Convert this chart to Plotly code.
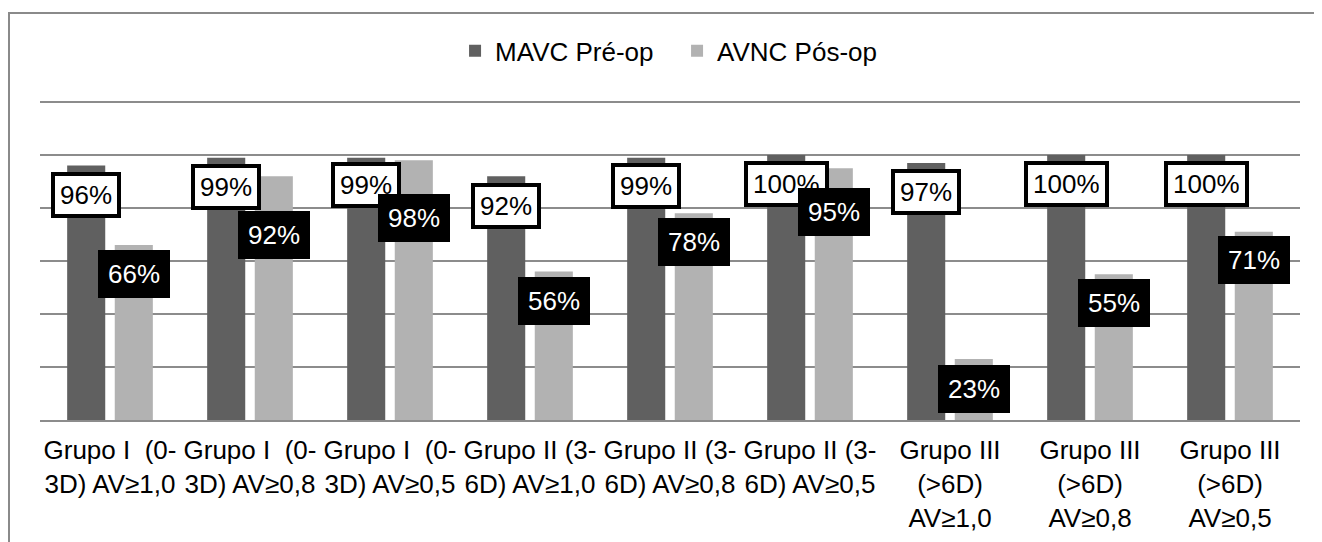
import plotly.graph_objects as go

categories = [
    "Grupo I\u00a0 (0-<br>3D) AV≥1,0",
    "Grupo I\u00a0 (0-<br>3D) AV≥0,8",
    "Grupo I\u00a0 (0-<br>3D) AV≥0,5",
    "Grupo II (3-<br>6D) AV≥1,0",
    "Grupo II (3-<br>6D) AV≥0,8",
    "Grupo II (3-<br>6D) AV≥0,5",
    "Grupo III<br>(>6D)<br>AV≥1,0",
    "Grupo III<br>(>6D)<br>AV≥0,8",
    "Grupo III<br>(>6D)<br>AV≥0,5",
]
mavc_pre = [0.96, 0.99, 0.99, 0.92, 0.99, 1.00, 0.97, 1.00, 1.00]
avnc_pos = [0.66, 0.92, 0.98, 0.56, 0.78, 0.95, 0.23, 0.55, 0.71]

# label vertical placement (pixels below the bar top)
pre_label_drop = [29, 29, 27, 30, 28, 29, 29, 29, 29]
pos_label_drop = [29, 59, 58, 29, 29, 44, 30, 29, 28]

FONT = "Liberation Sans, Arial, sans-serif"
DARK = "#606060"
LIGHT = "#b2b2b2"
BARGAP = 0.32
slot = (1 - BARGAP) / 2
YTOP = 1.2038

fig = go.Figure()
fig.add_trace(go.Bar(name="MAVC Pré-op", x=list(range(len(categories))), y=mavc_pre,
                     marker=dict(color=DARK, line=dict(width=0))))
fig.add_trace(go.Bar(name="AVNC Pós-op", x=list(range(len(categories))), y=avnc_pos,
                     marker=dict(color=LIGHT, line=dict(width=0))))

annotations = []
for i, v in enumerate(mavc_pre):
    annotations.append(dict(
        x=i - slot / 2, y=v, xref="x", yref="y", yshift=-pre_label_drop[i],
        text=f"{round(v*100)}%", showarrow=False, yanchor="middle", xanchor="center",
        font=dict(family=FONT, size=26, color="#000000"),
        bgcolor="#ffffff", bordercolor="#000000", borderwidth=4, borderpad=5, height=28))
for i, v in enumerate(avnc_pos):
    annotations.append(dict(
        x=i + slot / 2, y=v, xref="x", yref="y", yshift=-pos_label_drop[i],
        text=f"{round(v*100)}%", showarrow=False, yanchor="middle", xanchor="center",
        font=dict(family=FONT, size=26, color="#ffffff"),
        bgcolor="#000000", bordercolor="#000000", borderwidth=2, borderpad=8, height=28))

fig.update_layout(
    width=1322, height=542,
    margin=dict(l=32, r=30, t=93, b=130, autoexpand=False),
    paper_bgcolor="#ffffff", plot_bgcolor="#ffffff",
    barmode="group", bargap=BARGAP, bargroupgap=0.2,
    font=dict(family=FONT, size=26, color="#000000"),
    showlegend=True,
    legend=dict(orientation="h", x=0.5056, xanchor="center", y=1.157, yanchor="middle",
                font=dict(family=FONT, size=26, color="#000000"),
                bgcolor="rgba(0,0,0,0)", itemwidth=30, traceorder="normal",
                entrywidth=177),
    annotations=annotations,
    shapes=[dict(type="rect", xref="paper", yref="paper",
                 x0=-0.0246, x1=1.1, y0=-0.6, y1=1.276,
                 line=dict(color="#8a8a8a", width=2), fillcolor="rgba(0,0,0,0)",
                 layer="below")],
)
fig.update_xaxes(
    tickmode="array", tickvals=list(range(len(categories))), ticktext=categories,
    range=[-0.5, len(categories) - 0.5], showgrid=False, ticks="",
    showline=True, linecolor="#8c8c8c", linewidth=2, automargin=False,
    tickfont=dict(family=FONT, size=26, color="#000000"), tickangle=0,
    ticklabelstandoff=6,
)
fig.update_yaxes(
    range=[0, YTOP], tickvals=[0, 0.2, 0.4, 0.6, 0.8, 1.0, 1.2], showticklabels=False,
    showgrid=True, gridcolor="#8c8c8c", gridwidth=2, zeroline=False, ticks="",
    automargin=False,
)

fig.write_html("out.html")
